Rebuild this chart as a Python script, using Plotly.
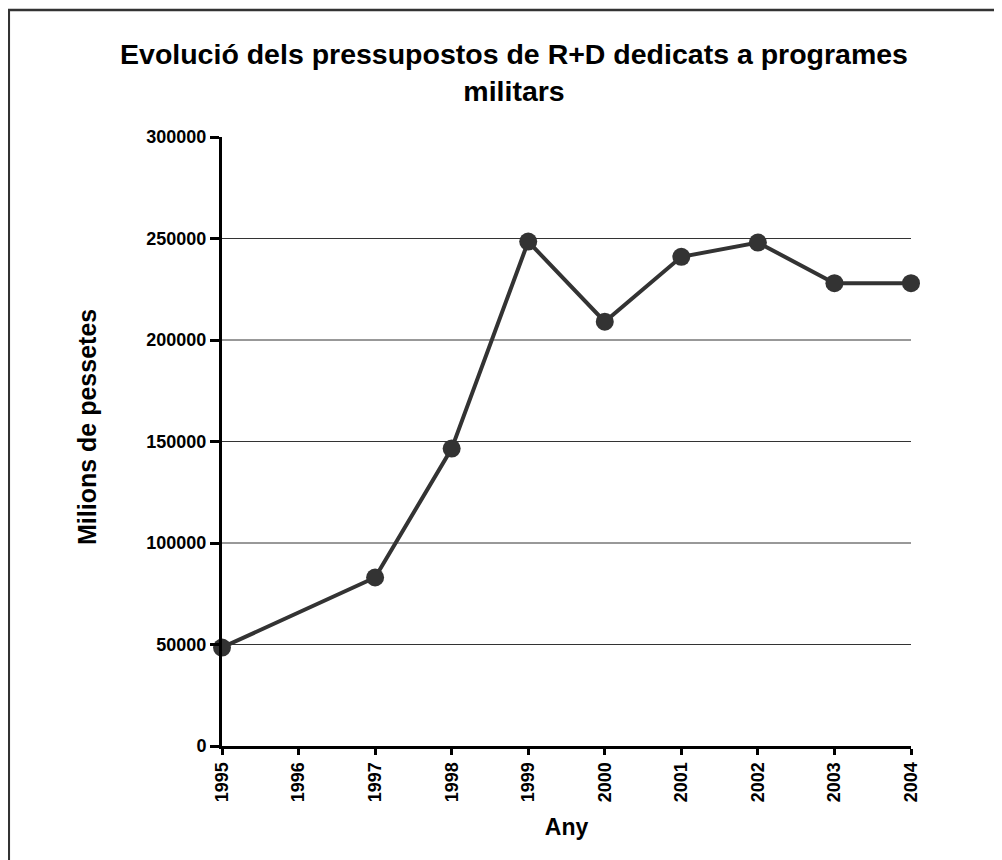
import plotly.graph_objects as go

years = [1995, 1997, 1998, 1999, 2000, 2001, 2002, 2003, 2004]
values = [48500, 83000, 146500, 248500, 209000, 241000, 248000, 228000, 228000]
x_ticks = list(range(1995, 2005))
y_ticks = [0, 50000, 100000, 150000, 200000, 250000, 300000]
grid_vals = [50000, 100000, 150000, 200000, 250000]

W, H = 1002, 860
ML, MR, MT, MB = 214, 99, 129, 122
pw, ph = W - ML - MR, H - MT - MB

def px_x(p):
    return (p - ML) / pw

def px_y(p):
    return (H - MB - p) / ph

font = "Liberation Sans, Arial, sans-serif"

fig = go.Figure()
fig.add_trace(go.Scatter(
    x=years, y=values, mode="lines+markers",
    line=dict(color="#333333", width=4),
    marker=dict(color="#333333", size=18),
    cliponaxis=False, showlegend=False,
))

shapes = []
for g in grid_vals:
    shapes.append(dict(type="line", xref="paper", yref="y", x0=0, x1=1, y0=g, y1=g,
                       line=dict(color="#333333", width=1), layer="below"))
shapes.append(dict(type="rect", xref="paper", yref="paper",
                   x0=px_x(0.8), x1=px_x(1015), y0=px_y(2), y1=px_y(875),
                   line=dict(color="#333333", width=2.5), layer="below"))

fig.update_layout(
    width=W, height=H,
    margin=dict(l=ML, r=MR, t=MT, b=MB),
    paper_bgcolor="white", plot_bgcolor="white",
    font=dict(family=font, color="black"),
    title=dict(text="<b>Evolució dels pressupostos de R+D dedicats a programes<br>militars</b>",
               x=506 / W, xanchor="center", y=1 - 56 / H, yanchor="middle",
               font=dict(size=28.5, family=font, color="black")),
    shapes=shapes,
    annotations=[dict(text="<b>Milions de pessetes</b>", textangle=-90, showarrow=False,
                      xref="paper", yref="paper", x=px_x(79), y=px_y(419),
                      xanchor="center", yanchor="middle",
                      font=dict(size=25, family=font, color="black"))],
    xaxis=dict(range=[1995, 2004], tickvals=x_ticks, ticktext=[f"<b>{t}</b>" for t in x_ticks],
               tickangle=-90, showgrid=False, zeroline=False,
               showline=True, linecolor="black", linewidth=3,
               ticks="outside", ticklen=6, tickwidth=3, tickcolor="black",
               tickfont=dict(size=18, family=font, color="black"),
               title=dict(text="<b>Any</b>", font=dict(size=23, family=font, color="black"), standoff=18)),
    yaxis=dict(range=[0, 300000], tickvals=y_ticks, ticktext=[f"<b>{t}</b>" for t in y_ticks],
               showgrid=False, zeroline=False,
               showline=True, linecolor="black", linewidth=3,
               ticks="outside", ticklen=9, tickwidth=3, tickcolor="black",
               tickfont=dict(size=18, family=font, color="black")),
)

fig.write_html("out.html")
